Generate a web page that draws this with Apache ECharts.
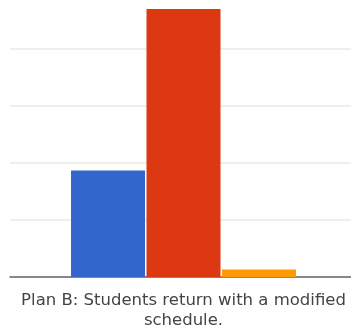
<!DOCTYPE html>
<html>
<head>
<meta charset="utf-8">
<script src="https://cdn.jsdelivr.net/npm/echarts@6/dist/echarts.min.js"></script>
<style>
  html, body { margin: 0; padding: 0; background: #fff; }
  #chart { width: 351px; height: 335px; }
</style>
</head>
<body>
<div id="chart"></div>
<script>
// 数据
const categories = ['Plan B'];
const seriesNames = ['Yes', 'No', 'Unsure'];
const seriesValues = [[28], [70.5], [2]];
const seriesColors = ['#3366cc', '#dc3912', '#ff9900'];
const titleText = 'Plan B: Students return with a modified\nschedule.';

const Y_MAX = 72.9;   // 刻度 0..60，顶部留白
const Y_STEP = 15;

const chart = echarts.init(document.getElementById('chart'));

const series = seriesNames.map((name, i) => ({
  name: name,
  type: 'bar',
  xAxisIndex: 1,
  yAxisIndex: 1,
  data: seriesValues[i],
  barWidth: 74,
  barGap: '2%',
  itemStyle: { color: seriesColors[i] }
}));

chart.setOption({
  animation: false,
  backgroundColor: '#fff',
  title: {
    text: titleText,
    left: 183.5,
    top: 291,
    padding: 0,
    textAlign: 'center',
    textStyle: {
      fontFamily: 'DejaVu Sans',
      fontSize: 16.5,
      fontWeight: 'normal',
      color: '#444',
      lineHeight: 20,
      align: 'center'
    }
  },
  // grid 0：网格线和底轴；grid 1：柱子
  grid: [
    { left: 10, right: 0, top: 0, bottom: 58 },
    { left: 16, right: 0, top: 0, bottom: 58 }
  ],
  xAxis: [
    {
      type: 'category',
      gridIndex: 0,
      data: categories,
      axisLine: { lineStyle: { color: '#666', width: 1.5 } },
      axisTick: { show: false },
      axisLabel: { show: false }
    },
    {
      type: 'category',
      gridIndex: 1,
      data: categories,
      axisLine: { show: false },
      axisTick: { show: false },
      axisLabel: { show: false }
    }
  ],
  yAxis: [
    {
      type: 'value',
      gridIndex: 0,
      min: 0,
      max: Y_MAX,
      interval: Y_STEP,
      axisLabel: { show: false },
      axisLine: { show: false },
      axisTick: { show: false },
      splitLine: { showMaxLine: false, lineStyle: { color: '#e8e8e8', width: 1.5 } }
    },
    {
      type: 'value',
      gridIndex: 1,
      min: 0,
      max: Y_MAX,
      interval: Y_STEP,
      axisLabel: { show: false },
      axisLine: { show: false },
      axisTick: { show: false },
      splitLine: { show: false }
    }
  ],
  series: series
});
</script>
</body>
</html>
